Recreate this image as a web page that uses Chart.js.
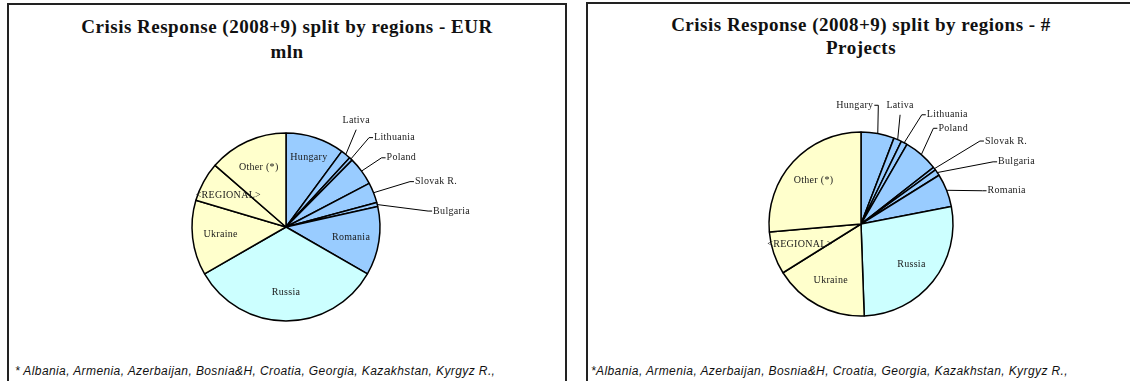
<!DOCTYPE html>
<html>
<head>
<meta charset="utf-8">
<script src="https://cdn.jsdelivr.net/npm/chart.js@4.4.1/dist/chart.umd.min.js"></script>
<style>
  body { margin: 0; width: 1130px; height: 381px; overflow: hidden; background: #fff; position: relative; }
  .panel { position: absolute; border: 2px solid #222; }
  #p1 { left: 7px; top: 3px; width: 556px; height: 420px; }
  #p2 { left: 586px; top: 2px; width: 600px; height: 420px; }
  .title { position: absolute; width: 520px; font-family: 'Liberation Serif', serif; font-weight: bold;
           font-size: 19px; line-height: 25px; letter-spacing: 0.5px; text-align: center; color: #111; }
  .note { position: absolute; font-family: 'Liberation Sans', sans-serif; font-style: italic;
          font-size: 12px; line-height: 13px; letter-spacing: 0.4px; white-space: nowrap; color: #111; }
  canvas { position: absolute; top: 0; }
</style>
</head>
<body>
<div class="panel" id="p1"></div>
<div class="panel" id="p2"></div>
<div class="title" style="left:27px; top:14px;">Crisis Response (2008+9) split by regions - EUR<br>mln</div>
<div class="title" style="left:601px; top:13px; line-height:23px;">Crisis Response (2008+9) split by regions - #<br>Projects</div>
<div class="note" style="left:15px; top:365px;">* Albania, Armenia, Azerbaijan, Bosnia&amp;H, Croatia, Georgia, Kazakhstan, Kyrgyz R.,</div>
<div class="note" style="left:591px; top:365px;">*Albania, Armenia, Azerbaijan, Bosnia&amp;H, Croatia, Georgia, Kazakhstan, Kyrgyz R.,</div>
<canvas id="myChart1" width="575" height="381" style="left:0px;"></canvas>
<canvas id="myChart2" width="555" height="381" style="left:575px;"></canvas>
<script>
let regions = ["Hungary", "Lativa", "Lithuania", "Poland", "Slovak R.", "Bulgaria", "Romania", "Russia", "Ukraine", "<REGIONAL>", "Other (*)"];
let eurMln = [303, 52, 17, 147, 105, 21, 354, 1000, 387, 204, 408];
let projects = [21, 5, 4, 22, 2, 4, 21, 99, 60, 27, 95];
let colors = ["#99CCFF", "#99CCFF", "#99CCFF", "#99CCFF", "#99CCFF", "#99CCFF", "#99CCFF", "#CCFFFF", "#FFFFCC", "#FFFFCC", "#FFFFCC"];

// where each label goes: inside (r = share of radius) or outside with a leader (out = elbow distance, a = elbow angle)
let place1 = {
    "Hungary": { r: 0.78 },
    "Lativa": { out: 120, a: 35.8, side: "up" },
    "Lithuania": { out: 122, a: 42.9, side: "right" },
    "Poland": { out: 118, a: 54.1, side: "right" },
    "Slovak R.": { out: 132, a: 69.9, side: "right" },
    "Bulgaria": { out: 143, a: 83.6, side: "right" }
};
let place2 = {
    "Hungary": { out: 120, a: 8.3, side: "left" },
    "Lativa": { out: 116, a: 19.7, side: "up" },
    "Lithuania": { out: 125, a: 29.1, side: "right" },
    "Poland": { out: 120, a: 37.1, side: "right" },
    "Slovak R.": { out: 145, a: 55.1, side: "right" },
    "Bulgaria": { out: 146, a: 64.8, side: "right" },
    "Romania": { out: 126, a: 74.7, side: "right" }
};

const sliceLabels = {
    id: 'sliceLabels',
    afterDatasetsDraw(chart, args, opts) {
        const ctx = chart.ctx;
        const meta = chart.getDatasetMeta(0);
        ctx.save();
        ctx.font = '10px "Liberation Serif"';
        ctx.letterSpacing = '0.3px';
        ctx.fillStyle = '#1a1a1a';
        ctx.strokeStyle = '#000';
        ctx.lineWidth = 1;
        meta.data.forEach((arc, i) => {
            const name = chart.data.labels[i];
            const p = opts.place[name] || {};
            const mid = (arc.startAngle + arc.endAngle) / 2;
            const cx = arc.x, cy = arc.y, r = arc.outerRadius;
            if (!p.out) {
                const d = r * (p.r || 0.7);
                ctx.textAlign = 'center';
                ctx.textBaseline = 'middle';
                ctx.fillText(name, cx + Math.cos(mid) * d, cy + Math.sin(mid) * d);
                return;
            }
            const a = (p.a - 90) * Math.PI / 180;
            const ex = cx + Math.cos(mid) * r, ey = cy + Math.sin(mid) * r;
            const kx = cx + Math.cos(a) * p.out, ky = cy + Math.sin(a) * p.out;
            ctx.beginPath();
            ctx.moveTo(ex, ey);
            ctx.lineTo(kx, ky);
            ctx.textBaseline = 'middle';
            if (p.side === 'up') {
                ctx.stroke();
                ctx.textAlign = 'center';
                ctx.fillText(name, kx, ky - 9);
            } else if (p.side === 'left') {
                ctx.lineTo(kx - 4, ky);
                ctx.stroke();
                ctx.textAlign = 'right';
                ctx.fillText(name, kx - 5, ky);
            } else {
                ctx.lineTo(kx + 4, ky);
                ctx.stroke();
                ctx.textAlign = 'left';
                ctx.fillText(name, kx + 5, ky);
            }
        });
        ctx.restore();
    }
};

let myChart1 = document.getElementById("myChart1").getContext('2d');

let chart1 = new Chart(myChart1, {
    type: 'pie',
    data: {
        labels: regions,
        datasets: [{
            data: eurMln,
            backgroundColor: colors,
            borderColor: '#000',
            borderWidth: 1.5,
            radius: 94
        }]
    },
    options: {
        responsive: false,
        animation: false,
        layout: { padding: { left: 0, right: 3, top: 100, bottom: 27 } },
        plugins: {
            legend: { display: false },
            tooltip: { enabled: false },
            sliceLabels: { place: place1 }
        }
    },
    plugins: [sliceLabels]
});

let myChart2 = document.getElementById("myChart2").getContext('2d');

let chart2 = new Chart(myChart2, {
    type: 'pie',
    data: {
        labels: regions,
        datasets: [{
            data: projects,
            backgroundColor: colors,
            borderColor: '#000',
            borderWidth: 1.5,
            radius: 92
        }]
    },
    options: {
        responsive: false,
        animation: false,
        layout: { padding: { left: 17, right: 0, top: 90, bottom: 23 } },
        plugins: {
            legend: { display: false },
            tooltip: { enabled: false },
            sliceLabels: { place: place2 }
        }
    },
    plugins: [sliceLabels]
});
</script>
</body>
</html>
